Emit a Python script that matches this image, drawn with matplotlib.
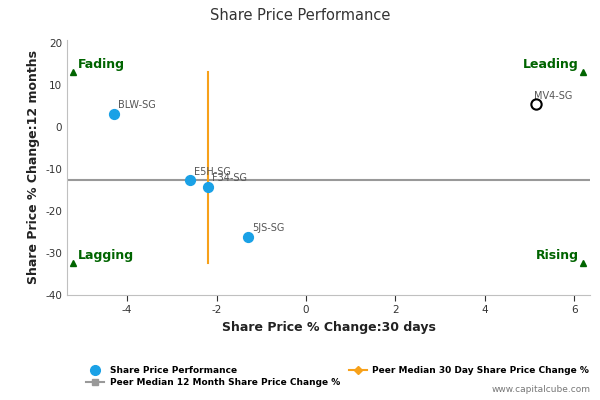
import matplotlib
matplotlib.use("Agg")
import matplotlib.pyplot as plt
from matplotlib.lines import Line2D

plt.rcParams["axes.unicode_minus"] = False

names = ["BLW-SG", "E5H-SG", "F34-SG", "5JS-SG"]
x30 = [-4.3, -2.6, -2.2, -1.3]
y12 = [3.2, -12.7, -14.2, -26.2]
own_name = "MV4-SG"; own_x = 5.15; own_y = 5.4
median_30 = -2.2
median_12 = -12.7
quad = [("Fading", -5.2, 13), ("Leading", 6.2, 13), ("Lagging", -5.2, -32.5), ("Rising", 6.2, -32.5)]

fig = plt.figure(figsize=(6, 4), dpi=100)
ax = fig.add_axes([0.112, 0.2625, 0.872, 0.6375])
ax.set_xlim(-5.34, 6.36)
ax.set_ylim(-40, 20.7)
for s in ["top", "right"]:
    ax.spines[s].set_visible(False)
for s in ["left", "bottom"]:
    ax.spines[s].set_color("#c0c0c0")
ax.tick_params(colors="#333333", labelsize=7.5, length=4)
ax.tick_params(axis="y", length=0)
ax.set_xticks([-4, -2, 0, 2, 4, 6])
ax.set_yticks([-40, -30, -20, -10, 0, 10, 20])

ax.plot([-5.34, 6.36], [median_12, median_12], color="#999999", lw=1.5, zorder=2)
ax.plot([median_30, median_30], [13, -32.5], color="#f7a11a", lw=1.5, zorder=2)
ax.scatter(x30, y12, s=50, color="#1aa1e6", zorder=3)
for n, xx, yy in zip(names, x30, y12):
    ax.annotate(n, (xx, yy), xytext=(3, 4), textcoords="offset points", fontsize=7, color="#555555")
ax.scatter([own_x], [own_y], s=55, facecolor="white", edgecolor="black", lw=1.5, zorder=4)
ax.annotate(own_name, (own_x, own_y), xytext=(-2, 4), textcoords="offset points", fontsize=7, color="#555555")
for lab, qx, qy in quad:
    ax.plot(qx, qy, marker="^", color="#006400", ms=5, ls="none", clip_on=False)
    ha = "left" if qx < 0 else "right"
    off = 3 if qx < 0 else -3
    ax.annotate(lab, (qx, qy), xytext=(off, 3), textcoords="offset points", ha=ha,
                fontsize=9, fontweight="bold", color="#006400")

ax.set_xlabel("Share Price % Change:30 days", fontsize=9, fontweight="bold", color="#222222")
ax.set_ylabel("Share Price % Change:12 months", fontsize=9, fontweight="bold", color="#222222")
fig.text(0.5, 0.96, "Share Price Performance", ha="center", va="center", fontsize=10.5, color="#333333")

handles = [
    Line2D([], [], marker="o", color="#1aa1e6", ls="none", ms=7),
    Line2D([], [], marker="s", color="#999999", ms=5, lw=1.5),
    Line2D([], [], marker="D", color="#f7a11a", ms=4, lw=1.5),
]
labels = ["Share Price Performance", "Peer Median 12 Month Share Price Change %",
          "Peer Median 30 Day Share Price Change %"]
fig.legend(handles, labels, loc="upper left", bbox_to_anchor=(0.13, 0.105), ncol=2, frameon=False,
           handlelength=2, columnspacing=1.0, labelspacing=0.3, handletextpad=0.6,
           prop={"weight": "bold", "size": 6.5})
fig.text(0.985, 0.02, "www.capitalcube.com", ha="right", fontsize=6.5, color="#777777")
fig.savefig("out.png")
